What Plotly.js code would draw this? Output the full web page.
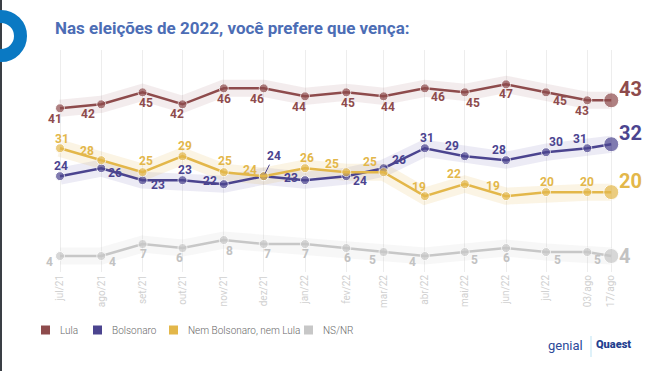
<!DOCTYPE html>
<html><head><meta charset="utf-8">
<script src="https://cdn.plot.ly/plotly-3.0.1.min.js"></script>
<style>html,body{margin:0;padding:0;background:#fff;} #chart{width:659px;height:371px;}</style>
</head><body><div id="chart"></div>
<script>
// ---------- DATA ----------
const dates = ['2021-07-03','2021-08-03','2021-09-03','2021-10-03','2021-11-03','2021-12-03',
  '2022-01-03','2022-02-03','2022-03-03','2022-04-03','2022-05-03','2022-06-03','2022-07-03',
  '2022-08-03','2022-08-21'];
const tickLabels = ['jul/21','ago/21','set/21','out/21','nov/21','dez/21','jan/22','fev/22',
  'mar/22','abr/22','mai/22','jun/22','jul/22','03/ago','17/ago'];
const seriesNames = ['Lula','Bolsonaro','Nem Bolsonaro, nem Lula','NS/NR'];
const lula      = [41,42,45,42,46,46,44,45,44,46,45,47,45,43,43];
const bolsonaro = [24,26,23,23,22,24,23,24,26,31,29,28,30,31,32];
const nem       = [31,28,25,29,25,24,26,25,25,19,22,19,20,20,20];
const nsnr      = [4,4,7,6,8,7,7,6,5,4,5,6,5,5,4];

// ---------- LABEL PLACEMENT (pixel offsets dx, dy; +dy = down) ----------
const lulaOff = [[-5,11],[-13,10],[3,11],[-6,10],[0,11],[-7,11],[-6,11],[2,11],[4,11],[13,9],[8,11],[0,10],[14,9],[-5,11]];
const bolsOff = [[1,-10],[14,5],[15,5],[2,-10],[-14,-3],null,[-14,-2],[14,5],[15,-8],[2,-10],[-13,-10],[-7,-10],[10,-10],[-7,-9]];
const nemOff  = [[2,-9],[-14,-9],[3,-11],[2,-10],[1,-11],[-14,-6],[2,-10],[-14,-8],[-14,-10],[-6,-9],[-11,-10],[-13,-10],[1,-10],[0,-10]];
const nsOff   = [[-11,6],[11,6],[1,10],[-3,10],[6,11],[4,10],[0,10],[1,10],[-11,8],[-12,6],[10,8],[0,10],[11,8],[10,8]];
const finalDy = [-11,-11,-11,0];

// ---------- STYLE ----------
const colors = ['#8E4B4C','#4B448F','#E3B74A','#C7C7C7'];
const labelColors = ['#8E4B4C','#4B448F','#E3B74A','#C2C2C2'];
const bandColors = ['rgba(150,80,95,0.11)','rgba(80,75,160,0.11)','rgba(227,184,74,0.15)','rgba(190,190,190,0.12)'];
const W = 659, H = 371, L = 30, R = 10, T = 50, B = 99;
const FONT = 'Roboto, "Open Sans", sans-serif';

const allSeries = [lula, bolsonaro, nem, nsnr];
const allOff = [lulaOff, bolsOff, nemOff, nsOff];
const last = dates.length - 1;

// x range so that the first point lands near x=60px with ~486px per year
const t0 = Date.UTC(2021,6,3), t1 = Date.UTC(2022,6,3);
const pxPerMs = 486 / (t1 - t0);
function iso(ms){ return new Date(ms).toISOString().replace('T',' ').replace('Z',''); }
const xRange = [iso(t0 - (60 - L) / pxPerMs), iso(t0 + (W - R - 60) / pxPerMs)];
const px = v => (v - L) / (W - L - R);
const py = v => (H - B - v) / (H - T - B);

const traces = [];
allSeries.forEach((s, k) => {
  traces.push({x: dates, y: s, type: 'scatter', mode: 'lines', hoverinfo: 'skip', showlegend: false,
    line: {color: bandColors[k], width: 17, shape: 'linear'}});
});
allSeries.forEach((s, k) => {
  traces.push({x: dates, y: s, type: 'scatter', mode: 'lines+markers', name: seriesNames[k], showlegend: false,
    line: {color: colors[k], width: 2.5},
    marker: {color: colors[k], size: s.map((v, i) => i === last ? 15 : 9)}});
});

const annotations = [];
allSeries.forEach((s, k) => {
  s.forEach((v, i) => {
    const f = {family: FONT, size: 12, color: labelColors[k], weight: 700};
    if (i === last) {
      annotations.push({x: dates[i], y: v, text: String(v), showarrow: false, xanchor: 'left', yanchor: 'middle',
        xshift: 6, yshift: -finalDy[k], font: {family: FONT, size: 20, color: labelColors[k], weight: 700}});
      return;
    }
    const o = allOff[k][i];
    if (!o) {
      annotations.push({x: dates[i], y: v, text: String(v), showarrow: true, arrowhead: 0, arrowwidth: 1,
        arrowcolor: labelColors[k], ax: 10, ay: -20, standoff: 3, font: f});
      return;
    }
    annotations.push({x: dates[i], y: v, text: String(v), showarrow: false, xanchor: 'center', yanchor: 'middle',
      xshift: o[0], yshift: -o[1], font: f});
  });
});

// legend (drawn manually)
const legendX = [41, 93, 169, 304];
const shapes = [];
seriesNames.forEach((n, k) => {
  shapes.push({type: 'rect', xref: 'paper', yref: 'paper', x0: px(legendX[k]), x1: px(legendX[k] + 9),
    y0: py(325.5), y1: py(334.5), fillcolor: colors[k], line: {width: 0}});
  annotations.push({xref: 'paper', yref: 'paper', x: px(legendX[k] + 17), y: py(330), text: n, showarrow: false,
    xanchor: 'left', yanchor: 'middle', font: {family: FONT, size: 10, color: '#6A6A6A', weight: 300}});
});
// decorations: left dark strip and blue ring
shapes.push({type: 'rect', xref: 'paper', yref: 'paper', x0: px(0), x1: px(2), y0: py(0), y1: py(H),
  fillcolor: '#3A3F45', line: {width: 0}, layer: 'above'});
shapes.push({type: 'circle', xref: 'paper', yref: 'paper', x0: px(1 - 19.5), x1: px(1 + 19.5),
  y0: py(36 - 19.5), y1: py(36 + 19.5), line: {color: '#0A79C3', width: 13}});
// logos
shapes.push({type: 'line', xref: 'paper', yref: 'paper', x0: px(591), x1: px(591), y0: py(336), y1: py(357),
  line: {color: '#D3ECF7', width: 1.5}});
annotations.push({xref: 'paper', yref: 'paper', x: px(565), y: py(345), text: 'genial', showarrow: false,
  xanchor: 'center', yanchor: 'middle', font: {family: FONT, size: 13, color: '#2C4A9A'}});
annotations.push({xref: 'paper', yref: 'paper', x: px(613), y: py(344), text: 'Quaest', showarrow: false,
  xanchor: 'center', yanchor: 'middle', font: {family: FONT, size: 11, color: '#22408F', weight: 900}});

const layout = {
  width: W, height: H, margin: {l: L, r: R, t: T, b: B},
  paper_bgcolor: '#ffffff', plot_bgcolor: '#ffffff',
  title: {text: 'Nas eleições de 2022, você prefere que vença:', x: 55 / W, xanchor: 'left', xref: 'container',
    y: 1 - 28 / H, yanchor: 'middle', yref: 'container', font: {family: FONT, size: 17, color: '#4C6DB5', weight: 700}},
  showlegend: false,
  xaxis: {type: 'date', range: xRange, tickvals: dates, ticktext: tickLabels, tickangle: -90,
    showgrid: true, gridcolor: '#EDEDED', gridwidth: 1, zeroline: false, showline: false, ticks: '',
    tickfont: {family: FONT, size: 10, color: '#D0D0D0'}, fixedrange: true},
  yaxis: {range: [0, 55.6], visible: false, showgrid: false, zeroline: false, fixedrange: true},
  annotations: annotations, shapes: shapes
};
Plotly.newPlot('chart', traces, layout, {displayModeBar: false, staticPlot: true});
</script></body></html>
